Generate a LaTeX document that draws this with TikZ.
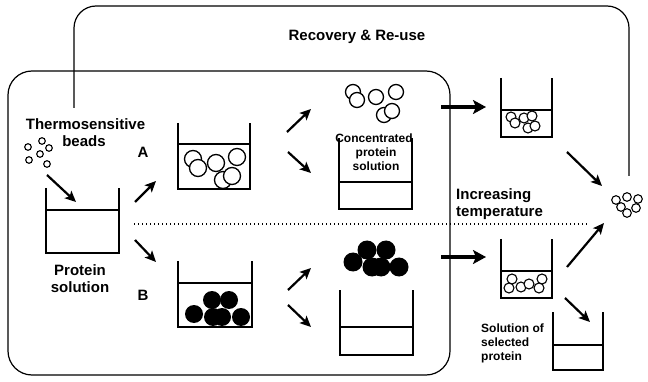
\documentclass[tikz,border=0pt]{standalone}
\usepackage{fontspec}
\setmainfont{Liberation Sans}
\usetikzlibrary{arrows.meta}
\newcommand\mybeaker[5]{% left top right bottom liquid
  \draw[beakerline] (#1,#2) -- (#1,#4) -- (#3,#4) -- (#3,#2);
  \draw[beakerline] (#1,#5) -- (#3,#5);}
\tikzset{
  beakerline/.style={line width=1.1pt},
  boxline/.style={line width=1.2pt, rounded corners=24pt},
  thinarrow/.style={line width=2.2pt, -{Stealth[length=11pt,width=10pt,inset=2.5pt]}},
  thickarrow/.style={line width=4.2pt, -{Stealth[length=13pt,width=14pt,inset=3pt]}},
  bead/.style={line width=1.3pt, draw=black, fill=white},
  blackbead/.style={fill=black},
  lbl/.style={font=\bfseries\fontsize{15}{17}\selectfont, inner sep=0pt, anchor=base},
  slbl/.style={font=\bfseries\fontsize{12}{14}\selectfont, inner sep=0pt, anchor=base},
}
\begin{document}
\begin{tikzpicture}[x=1pt,y=-1pt]
\useasboundingbox (0,0) rectangle (648,382);
% frames
\draw[boxline] (8,71) rectangle (450,375);
\draw[boxline, rounded corners=22pt] (74,108) -- (74,6) -- (629,6) -- (629,176);
\node[lbl] (rec) at (357,41) {Recovery \& Re-use};
% dotted separation
\draw[line width=1.8pt, dash pattern=on 1.4pt off 2.6pt] (134,224) -- (587,224);
% labels
\node[lbl] (thermo) at (85.5,130) {Thermosensitive};
\node[lbl] (beads) at (84,147) {beads};
\node[lbl] (A) at (143,158) {A};
\node[lbl] (B) at (143,300) {B};
\node[lbl] (prot1) at (80,275) {Protein};
\node[lbl] (prot2) at (80,292) {solution};
\node[slbl] (conc1) at (374,143) {Concentrated};
\node[slbl] (conc2) at (376,157) {protein};
\node[slbl] (conc3) at (376,171) {solution};
\node[lbl, anchor=base west] (inc1) at (456,200) {Increasing};
\node[lbl, anchor=base west] (inc2) at (456,217) {temperature};
\node[slbl, anchor=base west] (sel1) at (481,332) {Solution of};
\node[slbl, anchor=base west] (sel2) at (481,346) {selected};
\node[slbl, anchor=base west] (sel3) at (481,360) {protein};
% small beads at start
\foreach \p in {(28,147),(42,141),(49,148),(40,154),(29,160),(47,164)}
  \draw[bead, line width=1.1pt] \p circle (3.3);
% beakers
\mybeaker{46}{188}{119}{253}{210}
\mybeaker{178}{123}{250}{189}{144}
\mybeaker{178}{261}{252}{327}{283}
\mybeaker{339}{138}{412}{209}{182}
\mybeaker{340}{290}{413}{355}{327}
\mybeaker{501}{78}{552}{137}{110}
\mybeaker{501}{239}{552}{298}{271}
\mybeaker{553}{312}{603}{370}{345}
% beads in A1
\foreach \p in {(193,159),(198,168),(216,163),(237,157),(223,180),(232,176)}
  \draw[bead] \p circle (8.5);
% black beads in B1
\foreach \p in {(212,300),(229,300),(194,314),(213,317),(222,317),(241,317)}
  \fill[blackbead] \p circle (9);
% concentrated beads
\foreach \p in {(353,92),(357,100),(376,97),(396,92),(384,115),(392,111)}
  \draw[bead] \p circle (7.5);
% black beads B2
\foreach \p in {(353,262),(367,250),(386,250),(372,267),(381,267),(399,267)}
  \fill[blackbead] \p circle (9.5);
% beads A3
\foreach \p in {(511,117),(515,123),(524,118),(532,116),(528,128),(535,126)}
  \draw[bead, line width=1.1pt] \p circle (5);
% beads B3
\foreach \p in {(512,279),(509,288),(521,287),(529,284),(542,279),(539,288)}
  \draw[bead, line width=1.1pt] \p circle (5);
% final beads
\foreach \p in {(616,200),(627,197),(638,199),(621,207),(627,213),(636,208)}
  \draw[bead, line width=1.1pt] \p circle (4.3);
% arrow end points
\coordinate (s0) at (47,175); \coordinate (e0) at (76,202);
\coordinate (sA) at (135,202); \coordinate (eA) at (156,181);
\coordinate (sB) at (135,240); \coordinate (eB) at (156,262);
\coordinate (sA1u) at (287,132); \coordinate (eA1u) at (311,109);
\coordinate (sA1d) at (288,152); \coordinate (eA1d) at (311,173);
\coordinate (sB1u) at (288,290); \coordinate (eB1u) at (311,268);
\coordinate (sB1d) at (288,305); \coordinate (eB1d) at (311,327);
\coordinate (sTA) at (441,107); \coordinate (eTA) at (486,107);
\coordinate (sTB) at (441,257); \coordinate (eTB) at (486,257);
\coordinate (sA3) at (567,152); \coordinate (eA3) at (602,186);
\coordinate (sB3u) at (567,267); \coordinate (eB3u) at (604,223);
\coordinate (sB3d) at (565,298); \coordinate (eB3d) at (590,322);
\foreach \a/\b in {s0/e0,sA/eA,sB/eB,sA1u/eA1u,sA1d/eA1d,sB1u/eB1u,sB1d/eB1d,sA3/eA3,sB3u/eB3u,sB3d/eB3d}
  \draw[thinarrow] (\a) -- (\b);
\draw[thickarrow] (sTA) -- (eTA);
\draw[thickarrow] (sTB) -- (eTB);
\end{tikzpicture}
\end{document}
